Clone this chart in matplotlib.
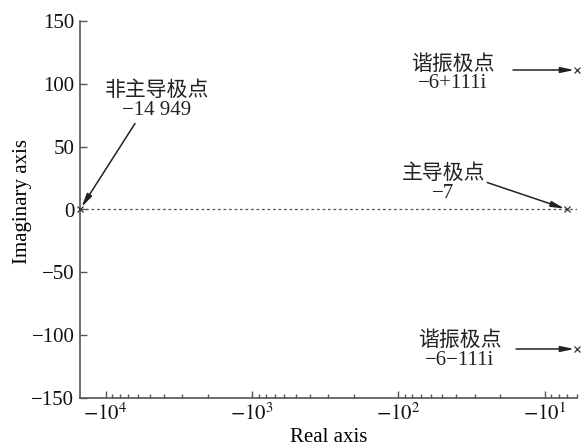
import numpy as np
import matplotlib
matplotlib.use("Agg")
import matplotlib.pyplot as plt
from matplotlib.ticker import LogLocator, FuncFormatter, NullFormatter

plt.rcParams['font.family'] = ['Liberation Serif', 'Noto Sans CJK SC']
plt.rcParams['mathtext.fontset'] = 'stix'

# Data
pole_real = [-14949, -7, -6, -6]
pole_imag = [0, 0, 111, -111]
pole_names = ['非主导极点', '主导极点', '谐振极点', '谐振极点']
pole_texts = ['\u221214 949', '\u22127', '\u22126+111i', '\u22126\u2212111i']
y_ticks = [-150, -100, -50, 0, 50, 100, 150]

# layout offsets (pixels) for annotations: (arrow tail offset, text center offset)
arrow_off = [(55, 86), (-80, 27), (-64, 0), (-61, 0)]
text_off = [(77, 109), (-124, 26), (-124, -4), (-117, -2)]

fig = plt.figure(figsize=(5.84, 4.48), dpi=100)
ax = fig.add_axes([80/584, 1-398/448, (577-80)/584, (398-21)/448])

xs = [-r for r in pole_real]
ax.set_xscale('log')
ax.axhline(0, color='#555555', lw=0.9, ls=(0, (2.2, 2.2)))
ax.plot(xs, pole_imag, 'x', color='#333333', ms=5, mew=0.9, clip_on=False, zorder=5)
ax.set_xlim(max(xs), min(xs))
ax.set_ylim(min(y_ticks), max(y_ticks))
ax.set_yticks(y_ticks)
ax.set_yticklabels([str(v).replace('-', '\u2212') for v in y_ticks])

ax.xaxis.set_major_locator(LogLocator(base=10, numticks=10))
ax.xaxis.set_minor_locator(LogLocator(base=10, subs=np.arange(2, 10), numticks=20))
ax.xaxis.set_major_formatter(FuncFormatter(lambda v, p: r'$-10^{%d}$' % int(round(np.log10(v)))))
ax.xaxis.set_minor_formatter(NullFormatter())

for s in ['top', 'right']:
    ax.spines[s].set_visible(False)
for s in ['left', 'bottom']:
    ax.spines[s].set_color('#555555')
    ax.spines[s].set_linewidth(1.2)
ax.tick_params(axis='both', which='both', direction='in', color='#555555', labelsize=15, labelcolor='#111111')
ax.tick_params(axis='x', which='major', length=5, width=1, pad=4)
ax.tick_params(axis='x', which='minor', length=3, width=1)
ax.tick_params(axis='y', which='major', length=5, width=1, pad=4)

ax.set_xlabel('Real axis', fontsize=15, va='center')
ax.set_ylabel('Imaginary axis', fontsize=15, va='center')
ax.xaxis.set_label_coords(0.5, -0.106)
ax.yaxis.set_label_coords(-0.115, 0.52)

for x, y, name, txt, ao, to in zip(xs, pole_imag, pole_names, pole_texts, arrow_off, text_off):
    ax.annotate('', xy=(x, y), xycoords='data', xytext=ao, textcoords='offset pixels',
                arrowprops=dict(arrowstyle='-|>,head_length=0.8,head_width=0.17', color='#222222',
                                lw=1.1, shrinkA=0, shrinkB=2), annotation_clip=False)
    ax.annotate(name + '\n' + txt, xy=(x, y), xycoords='data', xytext=to, textcoords='offset pixels',
                ha='center', va='center', fontsize=15, color='#222222', linespacing=1.0,
                annotation_clip=False)

fig.savefig('out.png', dpi=100)
